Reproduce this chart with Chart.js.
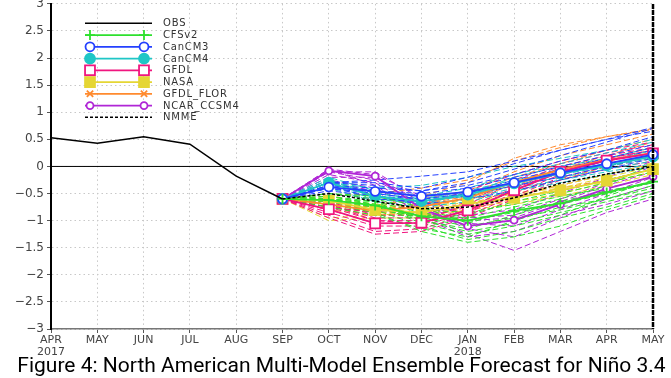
<!DOCTYPE html>
<html>
<head>
<meta charset="utf-8">
<script src="https://cdn.jsdelivr.net/npm/chart.js@4.4.1/dist/chart.umd.min.js"></script>
<style>
  body { margin: 0; background: #fff; }
  canvas { display: block; }
</style>
</head>
<body>
<canvas id="c" width="671" height="378"></canvas>
<script>
// month labels, year shown under APR 2017 and JAN 2018
var months = [['APR','2017'],'MAY','JUN','JUL','AUG','SEP','OCT','NOV','DEC',['JAN','2018'],'FEB','MAR','APR','MAY'];
var yTicks = [-3,-2.5,-2,-1.5,-1,-0.5,0,0.5,1,1.5,2,2.5,3];
var caption = 'Figure 4: North American Multi-Model Ensemble Forecast for Niño 3.4';

// observed, APR..SEP 2017
var obs = [0.53, 0.43, 0.55, 0.41, -0.18, -0.6];

// forecasts start at SEP (SEP..MAY, 9 values)
var nmme     = [-0.6,-0.5,-0.64,-0.78,-0.75,-0.58,-0.31,-0.14,0.0];
var cfsMean  = [-0.6,-0.62,-0.72,-0.92,-1.0,-0.82,-0.68,-0.48,-0.28];
var cm3Mean  = [-0.6,-0.38,-0.46,-0.55,-0.47,-0.3,-0.12,0.05,0.22];
var cm4Mean  = [-0.6,-0.3,-0.55,-0.64,-0.52,-0.31,-0.13,0.02,0.18];
var gfdlMean = [-0.6,-0.79,-1.05,-1.04,-0.81,-0.44,-0.1,0.11,0.24];
var nasaMean = [-0.6,-0.63,-0.8,-0.85,-0.69,-0.58,-0.44,-0.26,-0.05];
var florMean = [-0.6,-0.7,-0.82,-0.74,-0.58,-0.29,-0.06,0.12,0.25];
var ncarMean = [-0.6,-0.08,-0.18,-0.78,-1.1,-0.99,-0.7,-0.41,-0.19];

var cfsMembers = [
  [-0.6,-0.55,-0.65,-0.85,-1.0,-0.85,-0.7,-0.5,-0.3],
  [-0.6,-0.6,-0.75,-1.0,-1.2,-1.05,-0.85,-0.65,-0.45],
  [-0.6,-0.65,-0.8,-1.1,-1.35,-1.2,-0.95,-0.75,-0.5],
  [-0.6,-0.5,-0.6,-0.8,-0.85,-0.7,-0.5,-0.3,-0.1],
  [-0.6,-0.7,-0.85,-1.2,-1.4,-1.3,-1.1,-0.8,-0.55],
  [-0.6,-0.6,-0.7,-0.9,-0.95,-0.75,-0.55,-0.4,-0.2],
  [-0.6,-0.65,-0.75,-0.95,-1.1,-0.95,-0.8,-0.6,-0.35],
  [-0.6,-0.55,-0.7,-1.05,-1.25,-1.1,-0.9,-0.55,-0.25],
  [-0.6,-0.7,-0.8,-0.9,-0.9,-0.65,-0.45,-0.25,-0.05],
  [-0.6,-0.6,-0.65,-1.0,-1.15,-0.9,-0.65,-0.45,-0.3],
  [-0.6,-0.75,-0.9,-1.15,-1.3,-1.0,-0.75,-0.6,-0.4],
  [-0.6,-0.5,-0.55,-0.75,-1.05,-0.8,-0.6,-0.35,0.05]
];
var cm3Members = [
  [-0.6,-0.35,-0.4,-0.45,-0.3,-0.05,0.2,0.45,0.7],
  [-0.6,-0.4,-0.5,-0.6,-0.5,-0.3,-0.1,0.1,0.3],
  [-0.6,-0.3,-0.3,-0.4,-0.2,0.05,0.3,0.5,0.72],
  [-0.6,-0.45,-0.55,-0.7,-0.6,-0.45,-0.25,-0.05,0.15],
  [-0.6,-0.35,-0.45,-0.5,-0.4,-0.2,0.0,0.2,0.4],
  [-0.6,-0.4,-0.55,-0.6,-0.55,-0.35,-0.2,0.0,0.2],
  [-0.6,-0.3,-0.35,-0.45,-0.35,-0.15,0.1,0.3,0.55],
  [-0.6,-0.5,-0.6,-0.65,-0.5,-0.25,-0.05,0.15,0.35],
  [-0.6,-0.3,-0.25,-0.18,-0.1,0.1,0.3,0.5,0.65]
];
var cm4Members = [
  [-0.6,-0.25,-0.5,-0.6,-0.45,-0.25,-0.1,0.05,0.2],
  [-0.6,-0.3,-0.55,-0.7,-0.6,-0.4,-0.25,-0.1,0.05],
  [-0.6,-0.35,-0.6,-0.65,-0.5,-0.3,-0.1,0.1,0.3],
  [-0.6,-0.2,-0.45,-0.55,-0.4,-0.15,0.05,0.25,0.45],
  [-0.6,-0.4,-0.65,-0.75,-0.65,-0.45,-0.3,-0.15,0.0],
  [-0.6,-0.3,-0.5,-0.6,-0.5,-0.3,-0.15,0.0,0.15],
  [-0.6,-0.25,-0.55,-0.65,-0.55,-0.35,-0.2,-0.05,0.1],
  [-0.6,-0.35,-0.6,-0.7,-0.5,-0.2,0.0,0.15,0.35],
  [-0.6,-0.3,-0.4,-0.35,-0.2,0.0,0.15,0.3,0.5]
];
var gfdlMembers = [
  [-0.6,-0.7,-0.95,-0.95,-0.75,-0.4,-0.05,0.15,0.3],
  [-0.6,-0.85,-1.1,-1.1,-0.85,-0.5,-0.15,0.05,0.2],
  [-0.6,-0.75,-1.0,-1.0,-0.7,-0.3,0.0,0.2,0.35],
  [-0.6,-0.9,-1.2,-1.15,-0.9,-0.55,-0.2,0.0,0.15],
  [-0.6,-0.8,-1.05,-1.05,-0.8,-0.45,-0.1,0.1,0.25],
  [-0.6,-0.65,-0.9,-0.9,-0.65,-0.25,0.05,0.25,0.4],
  [-0.6,-0.95,-1.25,-1.2,-0.95,-0.6,-0.25,-0.05,0.1],
  [-0.6,-0.7,-1.0,-1.05,-0.85,-0.4,-0.1,0.15,0.3],
  [-0.6,-0.75,-0.85,-0.7,-0.45,-0.15,0.1,0.3,0.45]
];
var nasaMembers = [
  [-0.6,-0.55,-0.7,-0.8,-0.6,-0.5,-0.35,-0.15,0.05],
  [-0.6,-0.7,-0.85,-0.9,-0.75,-0.65,-0.5,-0.3,-0.1],
  [-0.6,-0.95,-0.9,-0.85,-0.7,-0.55,-0.45,-0.25,-0.05],
  [-0.6,-0.6,-0.75,-0.8,-0.65,-0.6,-0.4,-0.2,0.0],
  [-0.6,-1.0,-0.95,-0.95,-0.8,-0.7,-0.55,-0.35,-0.15],
  [-0.6,-0.65,-0.8,-0.85,-0.7,-0.5,-0.4,-0.3,-0.1]
];
var florMembers = [
  [-0.6,-0.7,-0.75,-0.55,-0.3,0.15,0.4,0.55,0.7],
  [-0.6,-0.65,-0.8,-0.75,-0.6,-0.35,-0.1,0.15,0.35],
  [-0.6,-0.75,-0.85,-0.85,-0.75,-0.55,-0.35,-0.15,0.05],
  [-0.6,-0.6,-0.7,-0.6,-0.45,-0.1,0.2,0.4,0.6],
  [-0.6,-0.8,-0.9,-0.9,-0.8,-0.6,-0.4,-0.25,-0.05],
  [-0.6,-0.7,-0.8,-0.7,-0.55,-0.3,-0.05,0.2,0.45],
  [-0.6,-0.75,-0.9,-0.85,-0.7,-0.45,-0.25,0.0,0.2],
  [-0.6,-0.65,-0.75,-0.7,-0.5,-0.2,0.05,0.3,0.5],
  [-0.6,-0.55,-0.5,-0.4,-0.25,0.1,0.35,0.55,0.68]
];
var ncarMembers = [
  [-0.6,-0.05,-0.15,-0.55,-0.95,-0.9,-0.6,-0.3,0.0],
  [-0.6,-0.1,-0.25,-0.7,-1.05,-1.1,-0.8,-0.5,-0.2],
  [-0.6,-0.15,-0.3,-0.8,-1.15,-1.3,-0.95,-0.6,-0.35],
  [-0.6,-0.2,-0.2,-0.65,-1.0,-0.95,-0.65,-0.35,-0.1],
  [-0.6,-0.05,-0.35,-0.9,-1.25,-1.55,-1.2,-0.85,-0.6],
  [-0.6,-0.25,-0.4,-0.85,-1.1,-1.0,-0.7,-0.45,-0.3],
  [-0.6,-0.1,-0.1,-0.6,-0.9,-0.8,-0.5,-0.2,0.1],
  [-0.6,-0.3,-0.45,-0.95,-1.3,-1.2,-0.9,-0.7,-0.45]
];

// forecast arrays start at SEP, put 5 empty months in front
function fromSep(a){ return [null,null,null,null,null].concat(a); }

var models = [
  {name:'CFSv2',      color:'#2ee02e', mean:cfsMean,  members:cfsMembers,  style:'cross',    r:5,   fill:false},
  {name:'CanCM3',     color:'#2440ff', mean:cm3Mean,  members:cm3Members,  style:'circle',   r:4.5, fill:false},
  {name:'CanCM4',     color:'#1fc6c6', mean:cm4Mean,  members:cm4Members,  style:'circle',   r:5,   fill:true},
  {name:'GFDL',       color:'#f0167f', mean:gfdlMean, members:gfdlMembers, style:'rect',     r:7,   fill:false},
  {name:'NASA',       color:'#e5d634', mean:nasaMean, members:nasaMembers, style:'rect',     r:7,   fill:true},
  {name:'GFDL_FLOR',  color:'#ff8a2e', mean:florMean, members:florMembers, style:'crossRot', r:4.5, fill:false},
  {name:'NCAR_CCSM4', color:'#b026d6', mean:ncarMean, members:ncarMembers, style:'circle',   r:3.5, fill:false}
];

var datasets = [];
datasets.push({legendLabel:'OBS', data:obs, borderColor:'#000', borderWidth:1.5, pointRadius:0, order:0});
models.forEach(function(m){
  m.members.forEach(function(mm){
    datasets.push({data:fromSep(mm), borderColor:m.color, borderWidth:1, borderDash:[6,3], pointRadius:0, order:10});
  });
});
models.forEach(function(m){
  datasets.push({
    legendLabel:m.name, data:fromSep(m.mean), borderColor:m.color, borderWidth:1.8,
    pointStyle:m.style, pointRadius:m.r, pointBorderWidth:1.8,
    pointBorderColor:m.color, pointBackgroundColor:m.fill ? m.color : '#fff', order:2
  });
});
datasets.push({legendLabel:'NMME', data:fromSep(nmme), borderColor:'#000', borderWidth:1.5, borderDash:[3,2], pointRadius:0, order:1});

// zero line, right frame and the figure caption
var framePlugin = {
  id:'frame',
  beforeDatasetsDraw: function(chart){
    var ctx = chart.ctx, sx = chart.scales.x, y0 = chart.scales.y.getPixelForValue(0);
    ctx.save();
    ctx.strokeStyle = '#000'; ctx.lineWidth = 1;
    ctx.beginPath(); ctx.moveTo(sx.left, y0); ctx.lineTo(sx.right, y0); ctx.stroke();
    ctx.restore();
  },
  afterDraw: function(chart){
    var ctx = chart.ctx, sx = chart.scales.x, sy = chart.scales.y;
    ctx.save();
    ctx.strokeStyle = '#000'; ctx.lineWidth = 2.5; ctx.setLineDash([5,1]);
    ctx.beginPath(); ctx.moveTo(sx.right, sy.top); ctx.lineTo(sx.right, sy.bottom); ctx.stroke();
    ctx.setLineDash([]);
    ctx.fillStyle = '#000';
    ctx.font = '21px Roboto';
    ctx.textAlign = 'center';
    ctx.textBaseline = 'alphabetic';
    ctx.fillText(caption, 341.5, 372);
    ctx.restore();
  }
};

// legend drawn inside the plot, upper left
var legendPlugin = {
  id:'boxLegend',
  afterDraw: function(chart){
    var ctx = chart.ctx;
    var items = chart.data.datasets.filter(function(d){ return d.legendLabel; });
    var x1 = 85, x2 = 152, y = 23.3;
    ctx.save();
    items.forEach(function(d){
      ctx.strokeStyle = d.borderColor;
      ctx.lineWidth = d.borderWidth;
      ctx.setLineDash(d.borderDash || []);
      ctx.beginPath(); ctx.moveTo(x1, y); ctx.lineTo(x2, y); ctx.stroke();
      ctx.setLineDash([]);
      if (d.pointRadius) {
        ctx.fillStyle = d.pointBackgroundColor;
        ctx.strokeStyle = d.pointBorderColor;
        ctx.lineWidth = d.pointBorderWidth;
        var o = {pointStyle:d.pointStyle, radius:d.pointRadius, rotation:0, borderWidth:d.pointBorderWidth};
        Chart.helpers.drawPoint(ctx, o, 90, y);
        Chart.helpers.drawPoint(ctx, o, 144, y);
      }
      ctx.fillStyle = '#333';
      ctx.font = '10px "DejaVu Sans"';
      ctx.letterSpacing = '0.8px';
      ctx.textBaseline = 'middle';
      ctx.fillText(d.legendLabel, 163, y + 0.5);
      y += 11.75;
    });
    ctx.restore();
  }
};

var config = {
  type:'line',
  data:{ labels:months, datasets:datasets },
  options:{
    responsive:false,
    animation:false,
    spanGaps:false,
    layout:{ autoPadding:false, padding:{ top:1, right:18, left:0, bottom:0 } },
    plugins:{
      legend:{ display:false },
      tooltip:{ enabled:false },
      title:{ display:false }
    },
    scales:{
      x:{
        offset:false,
        grid:{ color:'#c8c8c8', tickLength:4, tickColor:'#555' },
        border:{ color:'#777', width:1.5, dash:[1.5,3] },
        ticks:{ color:'#444', font:{ family:'"DejaVu Sans"', size:11, lineHeight:1.1 }, padding:1, maxRotation:0, autoSkip:false },
        afterFit:function(s){ s.height = 49; }
      },
      y:{
        min:-3, max:3,
        afterBuildTicks:function(s){ s.ticks = yTicks.map(function(v){ return {value:v}; }); },
        grid:{ color:'#c8c8c8', tickLength:4, tickColor:'#555' },
        border:{ color:'#000', width:2, dash:[1.5,3] },
        ticks:{
          // small line height so the top label does not push the plot down
          color:'#444', font:{ family:'"DejaVu Sans"', size:12, lineHeight:0.15 }, padding:3,
          callback:function(v){ return String(v).replace('-', '\u2212'); }
        },
        afterFit:function(s){ s.width = 51; }
      }
    }
  },
  plugins:[framePlugin, legendPlugin]
};

var ctx = document.getElementById('c').getContext('2d');
window.ninoChart = new Chart(ctx, config);
</script>
</body>
</html>
